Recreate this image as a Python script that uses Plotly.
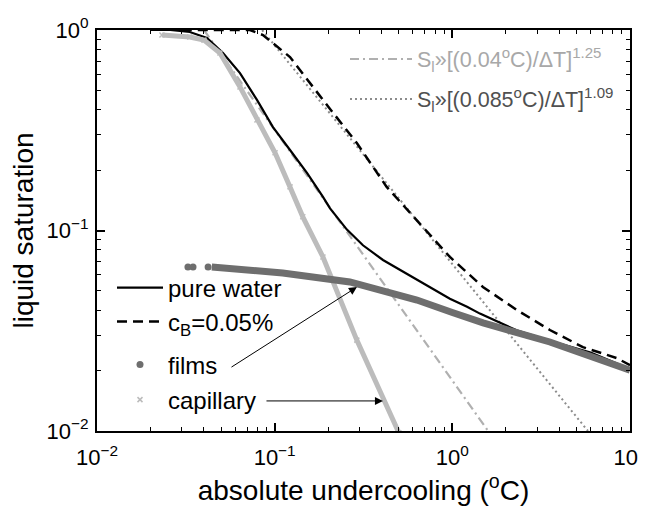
import plotly.graph_objects as go

# ---------------- data ----------------
x_tickvals = [0.01, 0.1, 1, 10]
x_ticktext = ["10<sup>−2</sup>", "10<sup>−1</sup>", "10<sup>0</sup>", "10<sup>1</sup>"]
y_tickvals = [0.01, 0.1, 1]
y_ticktext = ["10<sup>−2</sup>", "10<sup>−1</sup>", "10<sup>0</sup>"]
x_minor = [0.02, 0.03, 0.04, 0.05, 0.06, 0.07, 0.08, 0.09,
           0.2, 0.3, 0.4, 0.5, 0.6, 0.7, 0.8, 0.9,
           2, 3, 4, 5, 6, 7, 8, 9]
y_minor = [0.02, 0.03, 0.04, 0.05, 0.06, 0.07, 0.08, 0.09,
           0.2, 0.3, 0.4, 0.5, 0.6, 0.7, 0.8, 0.9]

pure_dT = [0.020, 0.0258, 0.0333, 0.0416, 0.0512, 0.0638, 0.0795, 0.0978, 0.122, 0.152,
           0.187, 0.205, 0.255, 0.314, 0.407, 0.507, 0.632, 0.778, 0.969, 1.21, 1.43, 2.3, 3.54, 6.0, 10.0]
pure_S = [1.0, 1.0, 0.977, 0.912, 0.768, 0.610, 0.448, 0.328, 0.252, 0.194,
          0.147, 0.129, 0.101, 0.0844, 0.0713, 0.0637, 0.0573, 0.0512, 0.0457, 0.0417, 0.0385, 0.0318, 0.0282, 0.0246, 0.0204]

cb_dT = [0.03, 0.0726, 0.0859, 0.122, 0.187, 0.290, 0.427, 0.969, 1.486, 2.31, 3.54, 5.43, 8.43, 10.0]
cb_S = [1.0, 1.0, 0.944, 0.733, 0.448, 0.273, 0.165, 0.0738, 0.0523, 0.0401, 0.0319, 0.0262, 0.0231, 0.0213]

films_dot_dT = [0.0325, 0.0347, 0.0422]
films_dot_S = [0.0658, 0.0658, 0.0658]
films_dT = [0.0443, 0.070, 0.111, 0.265, 0.507, 0.632, 1.0, 1.49, 3.54, 10.0]
films_S = [0.0658, 0.064, 0.0614, 0.0554, 0.0475, 0.045, 0.039, 0.0346, 0.0278, 0.0201]

cap_dT = [0.0232, 0.0333, 0.040, 0.0492, 0.0638, 0.0795, 0.1005, 0.122, 0.144, 0.187, 0.29, 0.50]
cap_S = [0.944, 0.923, 0.89, 0.768, 0.52, 0.356, 0.244, 0.165, 0.117, 0.0738, 0.0284, 0.0098]

fit1_dT = [0.04, 1.59]
fit1_S = [1.0, 0.01]
fit2_dT = [0.085, 5.8]
fit2_S = [1.0, 0.01]

# ---------------- styles ----------------
FONT = "Liberation Sans, Arial, Helvetica, sans-serif"
C_CAP = "#bcbcbc"
C_FILM = "#6e6e6e"
C_FIT1 = "#b0b0b0"
C_FIT2 = "#8c8c8c"

fig = go.Figure()

fig.add_trace(go.Scatter(x=fit1_dT, y=fit1_S, mode="lines",
                         line=dict(color=C_FIT1, width=2.2, dash="9px,4px,2px,4px"),
                         name="S<sub>l</sub>»[(0.04<sup>o</sup>C)/ΔT]<sup>1.25</sup>",
                         legend="legend5"))
fig.add_trace(go.Scatter(x=fit2_dT, y=fit2_S, mode="lines",
                         line=dict(color=C_FIT2, width=2, dash="2px,3px"),
                         name="S<sub>l</sub>»[(0.085<sup>o</sup>C)/ΔT]<sup>1.09</sup>",
                         legend="legend6"))
fig.add_trace(go.Scatter(x=pure_dT, y=pure_S, mode="lines",
                         line=dict(color="black", width=2.2),
                         name="pure water", legend="legend"))
fig.add_trace(go.Scatter(x=cb_dT, y=cb_S, mode="lines",
                         line=dict(color="black", width=2.5, dash="10px,6px"),
                         name="c<sub>B</sub>=0.05%", legend="legend2"))
fig.add_trace(go.Scatter(x=cap_dT, y=cap_S, mode="lines",
                         line=dict(color=C_CAP, width=5), showlegend=False))
fig.add_trace(go.Scatter(x=cap_dT, y=cap_S, mode="markers",
                         marker=dict(symbol="x-thin", size=5, line=dict(color=C_CAP, width=1.5)),
                         name="capillary", legend="legend4"))
fig.add_trace(go.Scatter(x=films_dT, y=films_S, mode="lines",
                         line=dict(color=C_FILM, width=7), showlegend=False))
fig.add_trace(go.Scatter(x=films_dot_dT, y=films_dot_S, mode="markers",
                         marker=dict(symbol="circle", size=7, color=C_FILM),
                         name="films", legend="legend3"))

# ---------------- layout ----------------
# the page body adds an 8px offset; figure coordinates are page coordinates minus 8
OFF = 8
W, H = 646 - OFF, 506 - OFF
L, T = 97 - OFF, 30 - OFF
R = W - (630 - OFF)
B = H - (431 - OFF)
PH = H - T - B
PW = W - L - R


def py(ypage):
    return (431 - ypage) / PH


def px(xpage):
    return (xpage - 97) / PW


def leg(xpage, ypage, size, color="black", iw=46):
    return dict(x=px(xpage), y=py(ypage), xanchor="left", yanchor="middle",
                bgcolor="rgba(0,0,0,0)", borderwidth=0, itemwidth=iw,
                font=dict(family=FONT, size=size, color=color),
                itemclick=False, itemdoubleclick=False)


axis_common = dict(type="log", showgrid=False, zeroline=False,
                   ticks="inside", ticklen=8, tickwidth=1.5, tickcolor="black",
                   showline=True, linecolor="black", linewidth=2, mirror="allticks",
                   ticklabeloverflow="allow",
                   tickfont=dict(family=FONT, size=22, color="black"))

fig.update_layout(
    width=W, height=H,
    margin=dict(l=L, r=R, t=T, b=B, autoexpand=False),
    paper_bgcolor="white", plot_bgcolor="white",
    font=dict(family=FONT, color="black"),
    xaxis=dict(axis_common, range=[-2, 1], tickvals=x_tickvals, ticktext=x_ticktext,
               ticklabelstandoff=6, automargin=False,
               minor=dict(tickvals=x_minor, ticks="inside", ticklen=4, tickwidth=1.2,
                          tickcolor="black", showgrid=False),
               title=dict(text="absolute undercooling (<sup>o</sup>C)",
                          font=dict(family=FONT, size=28), standoff=4)),
    yaxis=dict(axis_common, range=[-2, 0], tickvals=y_tickvals, ticktext=y_ticktext,
               ticklabelstandoff=2, automargin=False,
               minor=dict(tickvals=y_minor, ticks="inside", ticklen=4, tickwidth=1.2,
                          tickcolor="black", showgrid=False),
               title=dict(text="liquid saturation",
                          font=dict(family=FONT, size=28), standoff=6)),
    legend=leg(112, 288, 24),
    legend2=leg(112, 322, 24),
    legend3=leg(112, 365, 24),
    legend4=leg(112, 400, 24),
    legend5=leg(345, 59, 21.5, color="#a8a8a8", iw=62),
    legend6=leg(345, 99, 21.5, color="#505050", iw=62),
    showlegend=True,
)

fig.add_annotation(x=-0.537, y=-1.282, ax=-1.2516, ay=-1.686,
                   xref="x", yref="y", axref="x", ayref="y", text="",
                   showarrow=True, arrowhead=2, arrowsize=1.6, arrowwidth=1, arrowcolor="black")
fig.add_annotation(x=-0.3906, y=-1.850, ax=-1.0546, ay=-1.850,
                   xref="x", yref="y", axref="x", ayref="y", text="",
                   showarrow=True, arrowhead=2, arrowsize=1.6, arrowwidth=1, arrowcolor="black")

fig.write_html("out.html")
